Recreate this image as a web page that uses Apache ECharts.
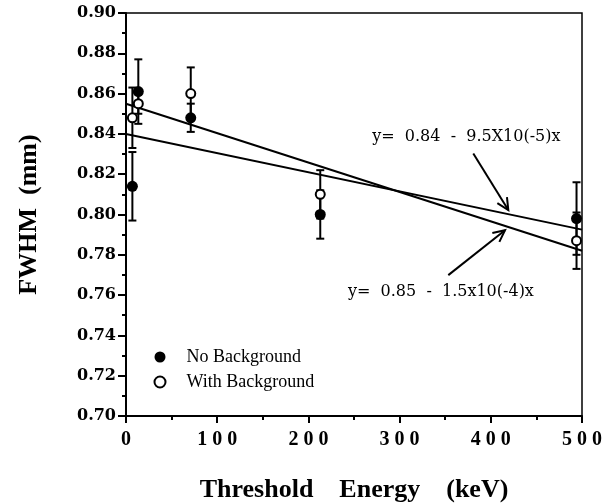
<!DOCTYPE html>
<html>
<head>
<meta charset="utf-8">
<script src="https://cdn.jsdelivr.net/npm/echarts@6/dist/echarts.min.js"></script>
<style>html,body{margin:0;padding:0;background:#fff}#c{width:616px;height:503px}</style>
</head>
<body>
<div id="c"></div>
<script>
// ---- data ----
const energies = [7, 13.5, 71, 213, 494];
const noBackground = [0.814, 0.861, 0.848, 0.800, 0.798];
const noBackgroundErr = [0.017, 0.016, 0.007, 0.012, 0.018];
const withBackground = [0.848, 0.855, 0.860, 0.810, 0.787];
const withBackgroundErr = [0.015, 0.005, 0.013, 0.012, 0.014];
const fitLineA = [[0, 0.840], [500, 0.7925]];
const fitLineB = [[0, 0.855], [500, 0.782]];
const annotationTexts = ['y=  0.84  -  9.5X10(-5)x', 'y=  0.85  -  1.5x10(-4)x'];
const annotationAnchors = [[270, 0.8384], [243.4, 0.7614]];
const arrowLines = [[380.8, 0.8303, 419.2, 0.8022], [353.4, 0.7699, 415.6, 0.7922]];
const xRange = [0, 500, 100];
const yRange = [0.70, 0.90, 0.02];

const chart = echarts.init(document.getElementById('c'), null, {renderer: 'canvas'});

function errData(vals, errs) {
  return energies.map((e, i) => [e, vals[i] - errs[i], vals[i] + errs[i]]);
}
function errRender(params, api) {
  const x = api.value(0);
  const lo = api.coord([x, api.value(1)]);
  const hi = api.coord([x, api.value(2)]);
  const w = 4;
  const st = {stroke: '#000', lineWidth: 2};
  return {type: 'group', children: [
    {type: 'line', shape: {x1: lo[0], y1: lo[1], x2: hi[0], y2: hi[1]}, style: st},
    {type: 'line', shape: {x1: lo[0] - w, y1: lo[1], x2: lo[0] + w, y2: lo[1]}, style: st},
    {type: 'line', shape: {x1: hi[0] - w, y1: hi[1], x2: hi[0] + w, y2: hi[1]}, style: st}
  ]};
}
function arrowRender(params, api) {
  const p1 = api.coord([api.value(0), api.value(1)]);
  const p2 = api.coord([api.value(2), api.value(3)]);
  const ang = Math.atan2(p2[1] - p1[1], p2[0] - p1[0]);
  const L = 13, a = 0.45;
  const st = {stroke: '#000', lineWidth: 2};
  const b1 = [p2[0] - L * Math.cos(ang - a), p2[1] - L * Math.sin(ang - a)];
  const b2 = [p2[0] - L * Math.cos(ang + a), p2[1] - L * Math.sin(ang + a)];
  return {type: 'group', children: [
    {type: 'line', shape: {x1: p1[0], y1: p1[1], x2: p2[0], y2: p2[1]}, style: st},
    {type: 'polyline', shape: {points: [b1, p2, b2]}, style: {stroke: '#000', lineWidth: 2, fill: null}}
  ]};
}
function textRender(params, api) {
  const p = api.coord([api.value(0), api.value(1)]);
  return {type: 'text', x: p[0], y: p[1], style: {
    text: annotationTexts[params.dataIndex], fill: '#000',
    font: '16px "DejaVu Serif"', verticalAlign: 'middle', align: 'left'
  }};
}

const option = {
  animation: false,
  backgroundColor: '#fff',
  grid: {left: 126, right: 34, top: 13, bottom: 87, containLabel: false, outerBoundsMode: 'none',
         show: true, borderColor: '#000', borderWidth: 1.5},
  legend: {
    orient: 'vertical', left: 153.5, top: 348, padding: 0,
    itemWidth: 43, itemHeight: 11, itemGap: 7,
    data: ['No Background', 'With Background'],
    textStyle: {fontFamily: 'Liberation Serif', fontSize: 18, color: '#000', lineHeight: 18, padding: 0}
  },
  xAxis: {
    type: 'value', min: xRange[0], max: xRange[1], interval: xRange[2],
    name: 'Threshold    Energy    (keV)', nameLocation: 'middle', nameGap: 61,
    nameTextStyle: {fontFamily: 'Liberation Serif', fontWeight: 'bold', fontSize: 26, color: '#000'},
    axisLine: {lineStyle: {color: '#000', width: 2}},
    axisTick: {length: 7, lineStyle: {color: '#000', width: 2}},
    minorTick: {show: true, splitNumber: 2, length: 4, lineStyle: {color: '#000', width: 2}},
    splitLine: {show: false},
    axisLabel: {margin: 14, color: '#000', fontFamily: 'Liberation Serif', fontWeight: 'bold', fontSize: 20,
      formatter: v => String(v).split('').join(' ')}
  },
  yAxis: {
    type: 'value', min: yRange[0], max: yRange[1], interval: yRange[2],
    name: 'FWHM  (mm)', nameLocation: 'middle', nameGap: 84,
    nameTextStyle: {fontFamily: 'Liberation Serif', fontWeight: 'bold', fontSize: 26, color: '#000'},
    axisLine: {lineStyle: {color: '#000', width: 2}},
    axisTick: {length: 8, lineStyle: {color: '#000', width: 2}},
    minorTick: {show: true, splitNumber: 2, length: 4, lineStyle: {color: '#000', width: 2}},
    splitLine: {show: false},
    axisLabel: {margin: 10, color: '#000', fontFamily: 'DejaVu Serif', fontWeight: 'bold', fontSize: 16,
      formatter: v => v.toFixed(2)}
  },
  series: [
    {type: 'custom', name: 'errNo', renderItem: errRender, data: errData(noBackground, noBackgroundErr),
     encode: {x: 0, y: [1, 2]}, z: 2, clip: false},
    {type: 'custom', name: 'errWith', renderItem: errRender, data: errData(withBackground, withBackgroundErr),
     encode: {x: 0, y: [1, 2]}, z: 2, clip: false},
    {type: 'line', name: 'fitA', data: fitLineA, showSymbol: false, symbol: 'none',
     lineStyle: {color: '#000', width: 2}, z: 3},
    {type: 'line', name: 'fitB', data: fitLineB, showSymbol: false, symbol: 'none',
     lineStyle: {color: '#000', width: 2}, z: 3},
    {type: 'scatter', name: 'No Background', data: energies.map((e, i) => [e, noBackground[i]]),
     symbol: 'circle', symbolSize: 11, itemStyle: {color: '#000', opacity: 1}, z: 4},
    {type: 'scatter', name: 'With Background', data: energies.map((e, i) => [e, withBackground[i]]),
     symbol: 'circle', symbolSize: 9, itemStyle: {color: '#fff', borderColor: '#000', borderWidth: 2, opacity: 1}, z: 5},
    {type: 'custom', name: 'arrows', renderItem: arrowRender, data: arrowLines,
     encode: {x: [0, 2], y: [1, 3]}, z: 6, clip: false},
    {type: 'custom', name: 'labels', renderItem: textRender, data: annotationAnchors,
     encode: {x: 0, y: 1}, z: 6, clip: false}
  ]
};
chart.setOption(option);
</script>
</body>
</html>
